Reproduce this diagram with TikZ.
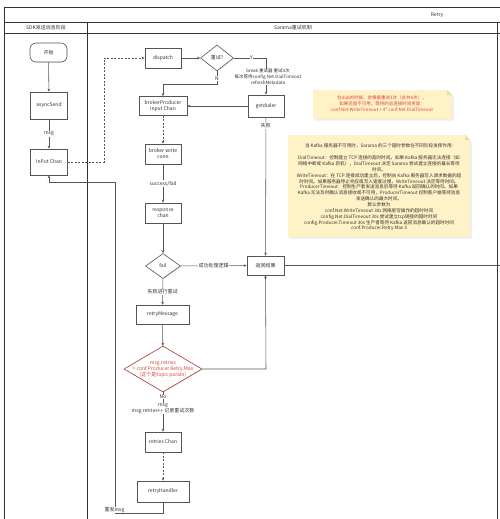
\documentclass[tikz,border=0pt]{standalone}
\usepackage{fontspec}
\setmainfont{Noto Sans CJK SC}
\usetikzlibrary{arrows.meta,shapes.geometric,shadows}
\definecolor{frameC}{HTML}{333333}
\definecolor{boxC}{HTML}{555555}
\definecolor{lineC}{HTML}{555555}
\definecolor{noteF}{HTML}{FFF2C6}
\definecolor{noteD}{HTML}{E8DBA8}
\definecolor{redT}{HTML}{D9453A}
\definecolor{txtC}{HTML}{333333}
\begin{document}
\begin{tikzpicture}[x=1pt,y=-1pt,
  every node/.style={text=txtC},
  fs/.style={font=\fontsize{5}{6}\selectfont},
  box/.style={draw=boxC, fill=white, line width=0.6pt, fs, align=center, inner sep=1pt,
     drop shadow={opacity=0.2, shadow xshift=0.7pt, shadow yshift=-0.7pt}},
  dia/.style={box, shape=diamond, inner sep=0pt},
  arr/.style={draw=lineC, line width=0.55pt, -{Stealth[length=3pt,width=2.6pt]}},
  plain/.style={draw=lineC, line width=0.55pt},
  dsh/.style={arr, dash pattern=on 2pt off 1.5pt},
  lbl/.style={fs, fill=white, inner sep=0.6pt, align=center},
  frame/.style={draw=frameC, line width=0.8pt}
]
\useasboundingbox (0,0) rectangle (500,519);

% pool frame
\draw[frame] (4,519) -- (4,7) -- (500,7);
\draw[frame] (4,22) -- (500,22);
\draw[frame] (4,33) -- (500,33);
\draw[frame] (87,22) -- (87,519);
\draw[frame] (497,22) -- (497,519);
\node[fs] (title) at (437,15) {Retry};
\node[fs] (lane1) at (46,28) {SDK发送消息阶段};
\node[fs] (lane2) at (293,28) {Sarama重试机制};

% notes
\fill[black,opacity=0.08] (314.5,91.5) -- (448,91.5) -- (453.5,97) -- (453.5,120.5) -- (314.5,120.5) -- cycle;
\fill[noteF] (313,90) -- (447,90) -- (452,95) -- (452,119) -- (313,119) -- cycle;
\fill[noteD] (447,90) -- (452,95) -- (447,95) -- cycle;
\node[font=\fontsize{4.5}{6}\selectfont, text=redT, align=center] (note1) at (382,104)
 {在dial的时候，会根据重试3次（总共4次），\\如果还是不可用，等待的总连接时间将是：\\conf.Net.WriteTimeout + 4* conf.Net.DialTimeout};

\fill[black,opacity=0.08] (289.5,136.5) -- (466,136.5) -- (471.5,142) -- (471.5,238.5) -- (289.5,238.5) -- cycle;
\fill[noteF] (288,135) -- (465,135) -- (470,140) -- (470,237) -- (288,237) -- cycle;
\fill[noteD] (465,135) -- (470,140) -- (465,140) -- cycle;
\node[font=\fontsize{4.6}{5.85}\selectfont, align=center] (note2) at (379,187.5)
 {当 Kafka 服务器不可用时，Sarama 的三个超时参数在不同阶段发挥作用:\\[5.85pt]
 DialTimeout：控制建立 TCP 连接的超时时间。如果 Kafka 服务器无法连接（如\\
 网络中断或 Kafka 宕机），DialTimeout 决定 Sarama 尝试建立连接的最长等待\\
 时间。\\
 WriteTimeout：在 TCP 连接成功建立后，控制向 Kafka 服务器写入请求数据的超\\
 时时间。如果服务器停止响应或写入速度过慢，WriteTimeout 决定等待时间。\\
 ProducerTimeout：控制生产者发送消息后等待 Kafka 返回确认的时间。如果\\
 Kafka 无法及时确认消息接收或不可用，ProducerTimeout 控制客户端等待消息\\
 发送确认的最大时间。\\
 默认参数为\\
 conf.Net.WriteTimeout 30s 网络层写操作的超时时间\\
 config.Net.DialTimeout 30s 尝试建立tcp链接的超时时间\\
 config.Producer.Timeout 30s 生产者等待 Kafka 返回消息确认的超时时间\\
 conf.Producer.Retry.Max 3};

% nodes
\node[box, rounded corners=6pt, minimum width=37pt, minimum height=19pt] (start) at (48.5,52.5) {开始};
\node[box, minimum width=37pt, minimum height=27pt] (async) at (49,105.5) {asyncSend};
\node[box, minimum width=37pt, minimum height=26pt] (inchan) at (49,162) {InPut Chan};
\node[box, minimum width=36pt, minimum height=20pt] (dispatch) at (163,58) {dispatch};
\node[dia, minimum width=33pt, minimum height=26pt] (retryq) at (217,58) {重试?};
\node[box, minimum width=48pt, minimum height=19pt] (bpic) at (163,106) {brokerProducer\\input Chan};
\node[box, minimum width=36pt, minimum height=22pt] (getdialer) at (266,106) {getdialer};
\node[box, minimum width=36pt, minimum height=20pt] (bwc) at (163,154) {broker write\\conn};
\node[box, minimum width=36pt, minimum height=20pt] (resp) at (163,213) {response\\chan};
\node[dia, minimum width=35pt, minimum height=25pt] (fail) at (163,266) {fail};
\node[box, minimum width=37pt, minimum height=19pt] (result) at (265.5,265.5) {返回结果};
\node[box, minimum width=53pt, minimum height=19pt] (rmsg) at (162.5,314.5) {retryMessage};
\node[dia, draw=redT!80!black, minimum width=78pt, minimum height=46pt] (maxq) at (163,369) {};
\node[fs, text=redT, align=center, inner sep=0pt] (maxqt) at (maxq.center) {msg.retries\\> conf.Producer.Retry.Max\\(这个是topic param)};
\node[box, minimum width=36pt, minimum height=20pt] (rchan) at (163,442) {retries Chan};
\node[box, minimum width=52pt, minimum height=21pt] (rhandler) at (163,491.5) {retryHandler};

\coordinate (dl) at (104,162);
\coordinate (yc) at (266,58);
\coordinate (nc1) at (217,84);
\coordinate (nc2) at (163,84);
\coordinate (rc) at (266,369);
\coordinate (out) at (500,265.5);
\coordinate (b1) at (163,513);
\coordinate (b2) at (115,513);
\coordinate (b3) at (115,182);
\coordinate (b4) at (49,182);

% connectors
\draw[arr] (start) -- (async);
\draw[arr] (async) -- node[lbl] (lmsg) {msg} (inchan);
\draw[dsh] (inchan.east) -- (dl) |- (dispatch.west);
\draw[arr] (dispatch) -- (retryq);
\draw[arr] (retryq.east) -- node[lbl, pos=0.55] (ly) {Y} (yc) -- (getdialer.north);
\node[font=\fontsize{4.5}{6}\selectfont, fill=white, inner sep=0.5pt, align=center] (brk) at (268,77)
 {break 重试器 重试3次\\每次等待config.Net.DialTimeout\\refreshMetadata};
\draw[arr] (retryq.south) -- node[lbl, pos=0.55] (ln) {N} (nc1) -- (nc2) -- (bpic.north);
\draw[arr] (getdialer) -- (bpic);
\draw[dsh] (bpic) -- (bwc);
\draw[arr] (bwc) -- node[lbl] (lsf) {success/fail} (resp);
\draw[arr] (resp) -- (fail);
\draw[arr] (fail) -- node[lbl] (lok) {成功处理逻辑} (result);
\draw[arr] (getdialer) -- node[lbl, pos=0.06] (lfail) {失败} (result);
\draw[arr] (fail) -- node[lbl] (lretry) {失败进行重试} (rmsg);
\draw[arr] (rmsg) -- (maxq);
\draw[arr] (maxq.east) -- (rc) -- (result.south);
\draw[plain] (result.east) -- (out);
\draw[arr] (maxq.south) -- (rchan.north);
\node[lbl] (lno) at (163,397) {No};
\node[lbl] (lmr) at (163,408.5) {msg\\msg.retries++ 记录重试次数};
\draw[dsh] (rchan) -- (rhandler);
\draw[arr] (rhandler.south) -- (b1) -- (b2) -- (b3) -- (b4) -- (inchan.south);
\node[lbl] (lresend) at (114.5,510) {重发msg};
\end{tikzpicture}
\end{document}
